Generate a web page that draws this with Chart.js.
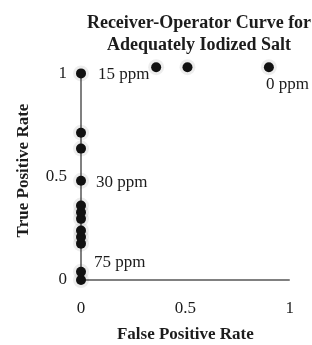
<!DOCTYPE html>
<html>
<head>
<meta charset="utf-8">
<script src="https://cdn.jsdelivr.net/npm/chart.js@4/dist/chart.umd.min.js"></script>
<style>
    html, body { margin: 0; padding: 0; background: #ffffff; }
    #wrap { width: 312px; height: 345px; }
</style>
</head>
<body>
<div id="wrap"><canvas id="grafico-roc"></canvas></div>
<script>
// Dados
const falsosPositivos = [0, 0, 0, 0, 0, 0, 0, 0, 0, 0, 0, 0, 0.36, 0.51, 0.9];
const verdadeirosPositivos = [0, 0.04, 0.176, 0.208, 0.24, 0.296, 0.328, 0.36, 0.48, 0.636, 0.713, 1, 1.03, 1.03, 1.03];
const ticksEixo = [0, 0.5, 1];
const rotulosPpm = ['15 ppm', '30 ppm', '75 ppm', '0 ppm'];
const pontosRotulos = [11, 8, 1, 14];
const tituloLinhas = ['Receiver-Operator Curve for', 'Adequately Iodized Salt'];

// Deslocamento dos rótulos em pixels (estilo)
const deslocRotulos = [[17, 1], [15, 2], [13, -9], [-3, 17]];

const fonteSerif = '"Liberation Serif", "Times New Roman", serif';
const corTexto = '#1c1c1c';

const pontos = falsosPositivos.map((x, i) => ({ x: x, y: verdadeirosPositivos[i] }));

// Plugin para eixos, rótulos e título
const pluginExtras = {
    id: 'extras',
    beforeDatasetsDraw(chart) {
        const ctx = chart.ctx;
        const sx = chart.scales.x;
        const sy = chart.scales.y;
        const x0 = sx.getPixelForValue(0);
        const y0 = sy.getPixelForValue(0);
        ctx.save();
        ctx.strokeStyle = '#808080';
        ctx.lineWidth = 2;
        ctx.beginPath();
        ctx.moveTo(x0, sy.getPixelForValue(1));
        ctx.lineTo(x0, y0);
        ctx.lineTo(sx.getPixelForValue(1), y0);
        ctx.stroke();
        ctx.restore();
    },
    afterDraw(chart) {
        const ctx = chart.ctx;
        const sx = chart.scales.x;
        const sy = chart.scales.y;
        ctx.save();
        ctx.fillStyle = corTexto;
        ctx.font = '17px ' + fonteSerif;
        ctx.textAlign = 'left';
        ctx.textBaseline = 'middle';
        rotulosPpm.forEach((txt, i) => {
            const p = pontosRotulos[i];
            const px = sx.getPixelForValue(falsosPositivos[p]) + deslocRotulos[i][0];
            const py = sy.getPixelForValue(verdadeirosPositivos[p]) + deslocRotulos[i][1];
            ctx.fillText(txt, px, py);
        });
        // Título
        ctx.font = 'bold 18px ' + fonteSerif;
        ctx.textAlign = 'center';
        ctx.textBaseline = 'alphabetic';
        ctx.fillText(tituloLinhas[0], 199, 28);
        ctx.fillText(tituloLinhas[1], 199, 50);
        ctx.restore();
    }
};

const ctxRoc = document.getElementById('grafico-roc');
new Chart(ctxRoc, {
    type: 'scatter',
    data: {
        datasets: [{
            data: pontos,
            backgroundColor: '#111111',
            borderColor: '#111111',
            borderWidth: 0,
            pointRadius: 5,
            pointHoverRadius: 5,
            clip: false
        }, {
            data: pontos,
            backgroundColor: 'rgba(0, 0, 0, 0.07)',
            borderWidth: 0,
            pointRadius: 8,
            pointHoverRadius: 8,
            clip: false
        }]
    },
    options: {
        responsive: true,
        maintainAspectRatio: false,
        animation: false,
        events: [],
        layout: {
            padding: { top: 61, right: 22, bottom: 0, left: 0 }
        },
        scales: {
            x: {
                type: 'linear',
                min: 0,
                max: 1,
                afterBuildTicks: scale => { scale.ticks = ticksEixo.map(v => ({ value: v })); },
                afterFit: scale => { scale.height = 65; },
                grid: { display: false, drawTicks: false },
                border: { display: false },
                ticks: {
                    padding: 18,
                    color: corTexto,
                    font: { family: fonteSerif, size: 17 },
                    callback: v => String(v)
                },
                title: {
                    display: true,
                    text: 'False Positive Rate',
                    color: corTexto,
                    font: { family: fonteSerif, size: 17, weight: 'bold' },
                    padding: { top: 0, bottom: 0 }
                }
            },
            y: {
                type: 'linear',
                min: 0,
                max: 1.06,
                afterBuildTicks: scale => { scale.ticks = ticksEixo.map(v => ({ value: v })); },
                afterFit: scale => { scale.width = 81; },
                grid: { display: false, drawTicks: false },
                border: { display: false },
                ticks: {
                    padding: 14,
                    color: corTexto,
                    font: { family: fonteSerif, size: 17 },
                    callback: v => String(v)
                },
                title: {
                    display: true,
                    text: 'True Positive Rate',
                    color: corTexto,
                    font: { family: fonteSerif, size: 17, weight: 'bold' },
                    padding: { top: 13, bottom: 0 }
                }
            }
        },
        plugins: {
            legend: { display: false },
            tooltip: { enabled: false }
        }
    },
    plugins: [pluginExtras]
});
</script>
</body>
</html>
